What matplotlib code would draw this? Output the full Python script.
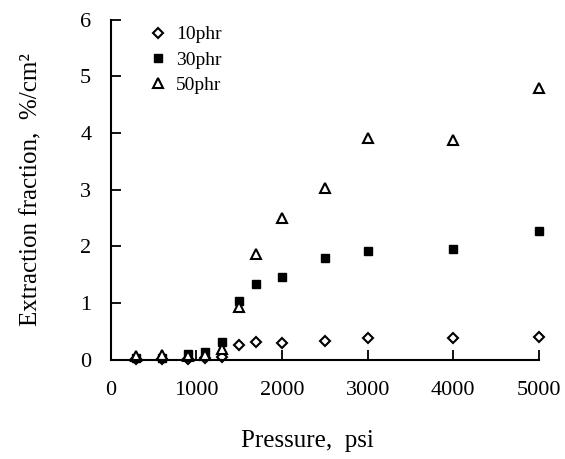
import matplotlib.pyplot as plt

plt.rcParams['font.family'] = ['Liberation Serif', 'DejaVu Serif']

pressure = [300, 600, 900, 1100, 1300, 1500, 1700, 2000, 2500, 3000, 4000, 5000]
phr10 = [0.02, 0.02, 0.02, 0.03, 0.05, 0.26, 0.32, 0.30, 0.34, 0.39, 0.39, 0.41]
phr30 = [0.03, 0.04, 0.10, 0.13, 0.31, 1.04, 1.34, 1.46, 1.80, 1.92, 1.96, 2.28]
phr50 = [0.06, 0.08, 0.07, 0.08, 0.20, 0.94, 1.87, 2.51, 3.04, 3.92, 3.88, 4.80]
xticks = [0, 1000, 2000, 3000, 4000, 5000]
yticks = [0, 1, 2, 3, 4, 5, 6]

fig = plt.figure(figsize=(5.65, 4.59), dpi=100)
ax = fig.add_axes([0.196, 0.216, 0.758, 0.741])

ax.plot(pressure, phr10, ls='none', marker='D', ms=5.5, mfc='white',
        mec='black', mew=1.5, label='10phr', clip_on=False)
ax.plot(pressure, phr30, ls='none', marker='s', ms=6, mfc='black',
        mec='black', mew=1, label='30phr', clip_on=False)
ax.plot(pressure, phr50, ls='none', marker='^', ms=7, mfc='white',
        mec='black', mew=1.5, label='50phr', clip_on=False)

ax.set_xlim(0, 5000)
ax.set_ylim(0, 6)
ax.set_xticks(xticks)
ax.set_yticks(yticks)
ax.tick_params(direction='in', length=7, width=1.3, labelsize=16)
ax.tick_params(axis='x', pad=15)
ax.tick_params(axis='y', pad=14)
for s in ['top', 'right']:
    ax.spines[s].set_visible(False)
for s in ['left', 'bottom']:
    ax.spines[s].set_linewidth(1.5)

ax.set_xlabel('Pressure,  psi', fontsize=18)
ax.xaxis.set_label_coords(0.46, -0.205)
ax.set_ylabel('Extraction fraction,  %/cm²', fontsize=18)
ax.yaxis.set_label_coords(-0.16, 0.5)

ax.legend(loc='upper left', bbox_to_anchor=(0.07, 1.005), frameon=False,
          fontsize=14, handlelength=1, handletextpad=0.4, labelspacing=0.4,
          borderaxespad=0)

fig.savefig('out.png', dpi=100)
